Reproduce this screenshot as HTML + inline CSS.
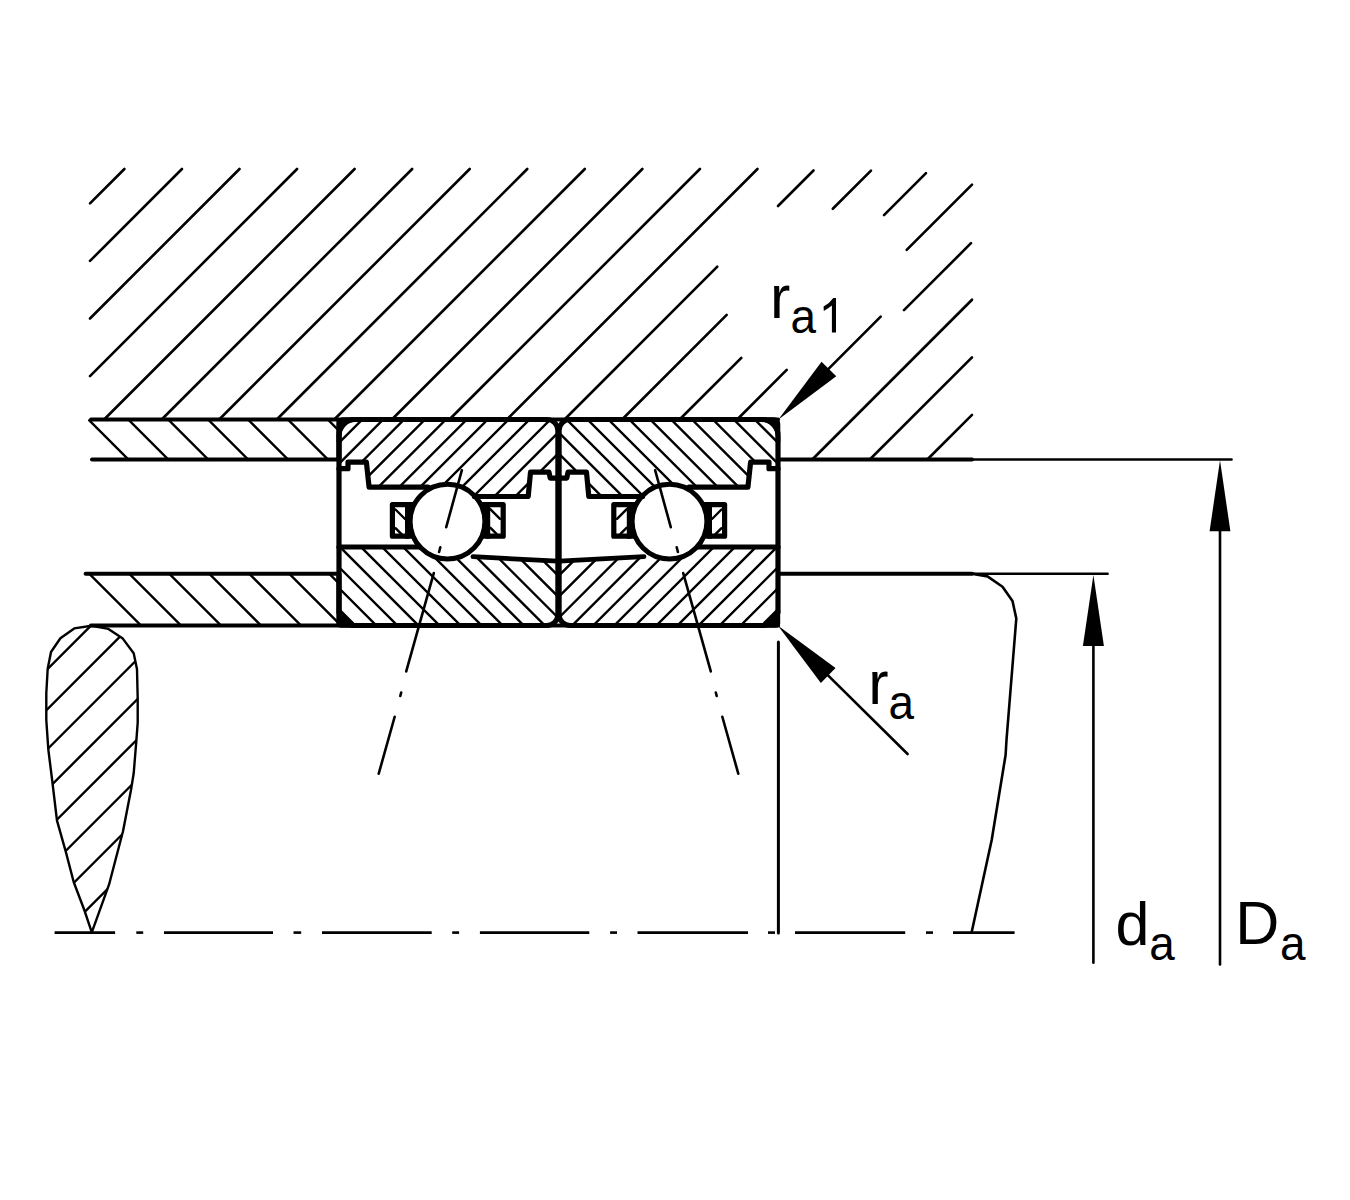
<!DOCTYPE html>
<html><head><meta charset="utf-8"><title>Bearing arrangement</title>
<style>html,body{margin:0;padding:0;background:#fff;} svg{display:block;}</style>
</head><body>
<svg width="1350" height="1200" viewBox="0 0 1350 1200">
<defs><clipPath id="cOS"><polygon points="88.00,419.50 339.00,419.50 339.00,459.50 88.00,459.50"/></clipPath>
<clipPath id="cIS"><polygon points="86.00,573.70 339.00,573.70 339.00,625.50 86.00,625.50"/></clipPath>
<clipPath id="cTear"><polygon points="91.60,625.80 74.20,628.40 60.40,638.20 51.00,652.00 47.70,668.70 46.30,693.30 46.30,720.00 48.30,749.30 52.30,781.30 57.00,820.70 65.70,851.30 73.70,882.00 84.30,910.00 91.80,932.30 109.00,884.70 123.00,831.30 131.00,790.00 133.70,773.30 136.30,741.30 137.70,722.70 137.70,698.70 137.00,669.30 133.70,653.30 122.80,638.60 108.40,628.90"/></clipPath>
<clipPath id="cOR"><polygon points="339.00,419.50 557.90,419.50 557.90,478.10 550.20,478.10 549.00,472.20 530.50,472.20 528.20,496.50 474.50,496.50 447.50,521.60 428.00,487.20 369.10,487.20 366.40,462.20 348.00,462.20 348.00,468.70 339.00,468.70"/></clipPath>
<clipPath id="cIR"><polygon points="339.00,547.00 418.00,547.00 447.50,521.60 470.00,556.60 557.90,561.20 557.90,625.50 339.00,625.50"/></clipPath></defs>
<rect x="0" y="0" width="1350" height="1200" fill="#fff"/>
<g stroke="#000" fill="none" stroke-linecap="round">
<line x1="90.00" y1="203.40" x2="124.40" y2="169.00" stroke-width="2.6" stroke-linecap="round"/>
<line x1="90.00" y1="260.95" x2="181.95" y2="169.00" stroke-width="2.6" stroke-linecap="round"/>
<line x1="90.00" y1="318.50" x2="239.50" y2="169.00" stroke-width="2.6" stroke-linecap="round"/>
<line x1="90.00" y1="376.05" x2="297.05" y2="169.00" stroke-width="2.6" stroke-linecap="round"/>
<line x1="104.10" y1="419.50" x2="354.60" y2="169.00" stroke-width="2.6" stroke-linecap="round"/>
<line x1="161.65" y1="419.50" x2="412.15" y2="169.00" stroke-width="2.6" stroke-linecap="round"/>
<line x1="219.20" y1="419.50" x2="469.70" y2="169.00" stroke-width="2.6" stroke-linecap="round"/>
<line x1="276.75" y1="419.50" x2="527.25" y2="169.00" stroke-width="2.6" stroke-linecap="round"/>
<line x1="334.30" y1="419.50" x2="584.80" y2="169.00" stroke-width="2.6" stroke-linecap="round"/>
<line x1="391.85" y1="419.50" x2="642.35" y2="169.00" stroke-width="2.6" stroke-linecap="round"/>
<line x1="449.40" y1="419.50" x2="699.90" y2="169.00" stroke-width="2.6" stroke-linecap="round"/>
<line x1="506.95" y1="419.50" x2="757.45" y2="169.00" stroke-width="2.6" stroke-linecap="round"/>
<line x1="564.50" y1="419.50" x2="717.30" y2="266.70" stroke-width="2.6" stroke-linecap="round"/>
<line x1="778.00" y1="206.00" x2="813.50" y2="170.50" stroke-width="2.6" stroke-linecap="round"/>
<line x1="622.05" y1="419.50" x2="726.70" y2="314.85" stroke-width="2.6" stroke-linecap="round"/>
<line x1="832.80" y1="208.75" x2="871.00" y2="170.55" stroke-width="2.6" stroke-linecap="round"/>
<line x1="679.60" y1="419.50" x2="741.30" y2="357.80" stroke-width="2.6" stroke-linecap="round"/>
<line x1="884.00" y1="215.10" x2="926.00" y2="173.10" stroke-width="2.6" stroke-linecap="round"/>
<line x1="737.15" y1="419.50" x2="786.70" y2="369.95" stroke-width="2.6" stroke-linecap="round"/>
<line x1="906.70" y1="249.95" x2="972.00" y2="184.65" stroke-width="2.6" stroke-linecap="round"/>
<line x1="904.00" y1="310.20" x2="971.00" y2="243.20" stroke-width="2.6" stroke-linecap="round"/>
<line x1="812.25" y1="459.50" x2="972.00" y2="299.75" stroke-width="2.6" stroke-linecap="round"/>
<line x1="869.80" y1="459.50" x2="972.00" y2="357.30" stroke-width="2.6" stroke-linecap="round"/>
<line x1="927.35" y1="459.50" x2="972.00" y2="414.85" stroke-width="2.6" stroke-linecap="round"/>
<g clip-path="url(#cOS)"><line x1="60.00" y1="391.10" x2="360.00" y2="691.10" stroke-width="2.4"/>
<line x1="60.00" y1="351.20" x2="360.00" y2="651.20" stroke-width="2.4"/>
<line x1="60.00" y1="311.30" x2="360.00" y2="611.30" stroke-width="2.4"/>
<line x1="60.00" y1="271.40" x2="360.00" y2="571.40" stroke-width="2.4"/>
<line x1="60.00" y1="231.50" x2="360.00" y2="531.50" stroke-width="2.4"/>
<line x1="60.00" y1="191.60" x2="360.00" y2="491.60" stroke-width="2.4"/>
<line x1="60.00" y1="151.70" x2="360.00" y2="451.70" stroke-width="2.4"/>
<line x1="60.00" y1="111.80" x2="360.00" y2="411.80" stroke-width="2.4"/></g>
<g clip-path="url(#cIS)"><line x1="60.00" y1="544.50" x2="360.00" y2="844.50" stroke-width="2.4"/>
<line x1="60.00" y1="504.50" x2="360.00" y2="804.50" stroke-width="2.4"/>
<line x1="60.00" y1="464.50" x2="360.00" y2="764.50" stroke-width="2.4"/>
<line x1="60.00" y1="424.50" x2="360.00" y2="724.50" stroke-width="2.4"/>
<line x1="60.00" y1="384.50" x2="360.00" y2="684.50" stroke-width="2.4"/>
<line x1="60.00" y1="344.50" x2="360.00" y2="644.50" stroke-width="2.4"/>
<line x1="60.00" y1="304.50" x2="360.00" y2="604.50" stroke-width="2.4"/>
<line x1="60.00" y1="264.50" x2="360.00" y2="564.50" stroke-width="2.4"/>
<line x1="60.00" y1="224.50" x2="360.00" y2="524.50" stroke-width="2.4"/></g>
<g clip-path="url(#cTear)"><line x1="30.00" y1="686.60" x2="160.00" y2="556.60" stroke-width="2.4"/>
<line x1="30.00" y1="726.60" x2="160.00" y2="596.60" stroke-width="2.4"/>
<line x1="30.00" y1="766.60" x2="160.00" y2="636.60" stroke-width="2.4"/>
<line x1="30.00" y1="806.60" x2="160.00" y2="676.60" stroke-width="2.4"/>
<line x1="30.00" y1="846.60" x2="160.00" y2="716.60" stroke-width="2.4"/>
<line x1="30.00" y1="886.60" x2="160.00" y2="756.60" stroke-width="2.4"/>
<line x1="30.00" y1="926.60" x2="160.00" y2="796.60" stroke-width="2.4"/>
<line x1="30.00" y1="966.60" x2="160.00" y2="836.60" stroke-width="2.4"/></g>
<path d="M91.60,625.80 L74.20,628.40 L60.40,638.20 L51.00,652.00 L47.70,668.70 L46.30,693.30 L46.30,720.00 L48.30,749.30 L52.30,781.30 L57.00,820.70 L65.70,851.30 L73.70,882.00 L84.30,910.00 L91.80,932.30 L109.00,884.70 L123.00,831.30 L131.00,790.00 L133.70,773.30 L136.30,741.30 L137.70,722.70 L137.70,698.70 L137.00,669.30 L133.70,653.30 L122.80,638.60 L108.40,628.90 Z" stroke-width="2.4" fill="none" stroke-linejoin="round"/>
<line x1="91.00" y1="419.60" x2="778.00" y2="419.60" stroke-width="4.0" stroke-linecap="round"/>
<line x1="92.00" y1="459.60" x2="339.00" y2="459.60" stroke-width="4.0" stroke-linecap="round"/>
<line x1="778.00" y1="459.50" x2="972.00" y2="459.50" stroke-width="4.0" stroke-linecap="round"/>
<line x1="972.00" y1="459.50" x2="1231.50" y2="459.50" stroke-width="2.6" stroke-linecap="round"/>
<line x1="85.60" y1="573.70" x2="339.00" y2="573.70" stroke-width="4.0" stroke-linecap="round"/>
<line x1="778.00" y1="573.80" x2="972.00" y2="573.80" stroke-width="4.0" stroke-linecap="round"/>
<line x1="972.00" y1="573.80" x2="1107.60" y2="573.80" stroke-width="2.6" stroke-linecap="round"/>
<line x1="91.00" y1="625.50" x2="778.00" y2="625.50" stroke-width="4.2" stroke-linecap="round"/>
<line x1="339.00" y1="419.50" x2="339.00" y2="459.50" stroke-width="5.2" stroke-linecap="butt"/>
<line x1="339.00" y1="573.70" x2="339.00" y2="625.50" stroke-width="5.2" stroke-linecap="butt"/>
<g><g clip-path="url(#cOR)"><line x1="330.00" y1="-70.70" x2="570.00" y2="-310.70" stroke-width="2.4"/>
<line x1="330.00" y1="-49.80" x2="570.00" y2="-289.80" stroke-width="2.4"/>
<line x1="330.00" y1="-28.90" x2="570.00" y2="-268.90" stroke-width="2.4"/>
<line x1="330.00" y1="-8.00" x2="570.00" y2="-248.00" stroke-width="2.4"/>
<line x1="330.00" y1="12.90" x2="570.00" y2="-227.10" stroke-width="2.4"/>
<line x1="330.00" y1="33.80" x2="570.00" y2="-206.20" stroke-width="2.4"/>
<line x1="330.00" y1="54.70" x2="570.00" y2="-185.30" stroke-width="2.4"/>
<line x1="330.00" y1="75.60" x2="570.00" y2="-164.40" stroke-width="2.4"/>
<line x1="330.00" y1="96.50" x2="570.00" y2="-143.50" stroke-width="2.4"/>
<line x1="330.00" y1="117.40" x2="570.00" y2="-122.60" stroke-width="2.4"/>
<line x1="330.00" y1="138.30" x2="570.00" y2="-101.70" stroke-width="2.4"/>
<line x1="330.00" y1="159.20" x2="570.00" y2="-80.80" stroke-width="2.4"/>
<line x1="330.00" y1="180.10" x2="570.00" y2="-59.90" stroke-width="2.4"/>
<line x1="330.00" y1="201.00" x2="570.00" y2="-39.00" stroke-width="2.4"/>
<line x1="330.00" y1="221.90" x2="570.00" y2="-18.10" stroke-width="2.4"/>
<line x1="330.00" y1="242.80" x2="570.00" y2="2.80" stroke-width="2.4"/>
<line x1="330.00" y1="263.70" x2="570.00" y2="23.70" stroke-width="2.4"/>
<line x1="330.00" y1="284.60" x2="570.00" y2="44.60" stroke-width="2.4"/>
<line x1="330.00" y1="305.50" x2="570.00" y2="65.50" stroke-width="2.4"/>
<line x1="330.00" y1="326.40" x2="570.00" y2="86.40" stroke-width="2.4"/>
<line x1="330.00" y1="347.30" x2="570.00" y2="107.30" stroke-width="2.4"/>
<line x1="330.00" y1="368.20" x2="570.00" y2="128.20" stroke-width="2.4"/>
<line x1="330.00" y1="389.10" x2="570.00" y2="149.10" stroke-width="2.4"/>
<line x1="330.00" y1="410.00" x2="570.00" y2="170.00" stroke-width="2.4"/>
<line x1="330.00" y1="430.90" x2="570.00" y2="190.90" stroke-width="2.4"/>
<line x1="330.00" y1="451.80" x2="570.00" y2="211.80" stroke-width="2.4"/>
<line x1="330.00" y1="472.70" x2="570.00" y2="232.70" stroke-width="2.4"/>
<line x1="330.00" y1="493.60" x2="570.00" y2="253.60" stroke-width="2.4"/>
<line x1="330.00" y1="514.50" x2="570.00" y2="274.50" stroke-width="2.4"/>
<line x1="330.00" y1="535.40" x2="570.00" y2="295.40" stroke-width="2.4"/>
<line x1="330.00" y1="556.30" x2="570.00" y2="316.30" stroke-width="2.4"/>
<line x1="330.00" y1="577.20" x2="570.00" y2="337.20" stroke-width="2.4"/>
<line x1="330.00" y1="598.10" x2="570.00" y2="358.10" stroke-width="2.4"/>
<line x1="330.00" y1="619.00" x2="570.00" y2="379.00" stroke-width="2.4"/>
<line x1="330.00" y1="639.90" x2="570.00" y2="399.90" stroke-width="2.4"/>
<line x1="330.00" y1="660.80" x2="570.00" y2="420.80" stroke-width="2.4"/>
<line x1="330.00" y1="681.70" x2="570.00" y2="441.70" stroke-width="2.4"/>
<line x1="330.00" y1="702.60" x2="570.00" y2="462.60" stroke-width="2.4"/>
<line x1="330.00" y1="723.50" x2="570.00" y2="483.50" stroke-width="2.4"/>
<line x1="330.00" y1="744.40" x2="570.00" y2="504.40" stroke-width="2.4"/>
<line x1="330.00" y1="765.30" x2="570.00" y2="525.30" stroke-width="2.4"/>
<line x1="330.00" y1="786.20" x2="570.00" y2="546.20" stroke-width="2.4"/>
<line x1="330.00" y1="807.10" x2="570.00" y2="567.10" stroke-width="2.4"/>
<line x1="330.00" y1="828.00" x2="570.00" y2="588.00" stroke-width="2.4"/>
<line x1="330.00" y1="848.90" x2="570.00" y2="608.90" stroke-width="2.4"/>
<line x1="330.00" y1="869.80" x2="570.00" y2="629.80" stroke-width="2.4"/>
<line x1="330.00" y1="890.70" x2="570.00" y2="650.70" stroke-width="2.4"/>
<line x1="330.00" y1="911.60" x2="570.00" y2="671.60" stroke-width="2.4"/>
<line x1="330.00" y1="932.50" x2="570.00" y2="692.50" stroke-width="2.4"/>
<line x1="330.00" y1="953.40" x2="570.00" y2="713.40" stroke-width="2.4"/>
<line x1="330.00" y1="974.30" x2="570.00" y2="734.30" stroke-width="2.4"/></g>
<g clip-path="url(#cIR)"><line x1="330.00" y1="1084.60" x2="570.00" y2="1324.60" stroke-width="2.4"/>
<line x1="330.00" y1="1063.54" x2="570.00" y2="1303.54" stroke-width="2.4"/>
<line x1="330.00" y1="1042.48" x2="570.00" y2="1282.48" stroke-width="2.4"/>
<line x1="330.00" y1="1021.42" x2="570.00" y2="1261.42" stroke-width="2.4"/>
<line x1="330.00" y1="1000.36" x2="570.00" y2="1240.36" stroke-width="2.4"/>
<line x1="330.00" y1="979.30" x2="570.00" y2="1219.30" stroke-width="2.4"/>
<line x1="330.00" y1="958.24" x2="570.00" y2="1198.24" stroke-width="2.4"/>
<line x1="330.00" y1="937.18" x2="570.00" y2="1177.18" stroke-width="2.4"/>
<line x1="330.00" y1="916.12" x2="570.00" y2="1156.12" stroke-width="2.4"/>
<line x1="330.00" y1="895.06" x2="570.00" y2="1135.06" stroke-width="2.4"/>
<line x1="330.00" y1="874.00" x2="570.00" y2="1114.00" stroke-width="2.4"/>
<line x1="330.00" y1="852.94" x2="570.00" y2="1092.94" stroke-width="2.4"/>
<line x1="330.00" y1="831.88" x2="570.00" y2="1071.88" stroke-width="2.4"/>
<line x1="330.00" y1="810.82" x2="570.00" y2="1050.82" stroke-width="2.4"/>
<line x1="330.00" y1="789.76" x2="570.00" y2="1029.76" stroke-width="2.4"/>
<line x1="330.00" y1="768.70" x2="570.00" y2="1008.70" stroke-width="2.4"/>
<line x1="330.00" y1="747.64" x2="570.00" y2="987.64" stroke-width="2.4"/>
<line x1="330.00" y1="726.58" x2="570.00" y2="966.58" stroke-width="2.4"/>
<line x1="330.00" y1="705.52" x2="570.00" y2="945.52" stroke-width="2.4"/>
<line x1="330.00" y1="684.46" x2="570.00" y2="924.46" stroke-width="2.4"/>
<line x1="330.00" y1="663.40" x2="570.00" y2="903.40" stroke-width="2.4"/>
<line x1="330.00" y1="642.34" x2="570.00" y2="882.34" stroke-width="2.4"/>
<line x1="330.00" y1="621.28" x2="570.00" y2="861.28" stroke-width="2.4"/>
<line x1="330.00" y1="600.22" x2="570.00" y2="840.22" stroke-width="2.4"/>
<line x1="330.00" y1="579.16" x2="570.00" y2="819.16" stroke-width="2.4"/>
<line x1="330.00" y1="558.10" x2="570.00" y2="798.10" stroke-width="2.4"/>
<line x1="330.00" y1="537.04" x2="570.00" y2="777.04" stroke-width="2.4"/>
<line x1="330.00" y1="515.98" x2="570.00" y2="755.98" stroke-width="2.4"/>
<line x1="330.00" y1="494.92" x2="570.00" y2="734.92" stroke-width="2.4"/>
<line x1="330.00" y1="473.86" x2="570.00" y2="713.86" stroke-width="2.4"/>
<line x1="330.00" y1="452.80" x2="570.00" y2="692.80" stroke-width="2.4"/>
<line x1="330.00" y1="431.74" x2="570.00" y2="671.74" stroke-width="2.4"/>
<line x1="330.00" y1="410.68" x2="570.00" y2="650.68" stroke-width="2.4"/>
<line x1="330.00" y1="389.62" x2="570.00" y2="629.62" stroke-width="2.4"/>
<line x1="330.00" y1="368.56" x2="570.00" y2="608.56" stroke-width="2.4"/>
<line x1="330.00" y1="347.50" x2="570.00" y2="587.50" stroke-width="2.4"/>
<line x1="330.00" y1="326.44" x2="570.00" y2="566.44" stroke-width="2.4"/>
<line x1="330.00" y1="305.38" x2="570.00" y2="545.38" stroke-width="2.4"/>
<line x1="330.00" y1="284.32" x2="570.00" y2="524.32" stroke-width="2.4"/>
<line x1="330.00" y1="263.26" x2="570.00" y2="503.26" stroke-width="2.4"/>
<line x1="330.00" y1="242.20" x2="570.00" y2="482.20" stroke-width="2.4"/>
<line x1="330.00" y1="221.14" x2="570.00" y2="461.14" stroke-width="2.4"/>
<line x1="330.00" y1="200.08" x2="570.00" y2="440.08" stroke-width="2.4"/>
<line x1="330.00" y1="179.02" x2="570.00" y2="419.02" stroke-width="2.4"/>
<line x1="330.00" y1="157.96" x2="570.00" y2="397.96" stroke-width="2.4"/>
<line x1="330.00" y1="136.90" x2="570.00" y2="376.90" stroke-width="2.4"/>
<line x1="330.00" y1="115.84" x2="570.00" y2="355.84" stroke-width="2.4"/>
<line x1="330.00" y1="94.78" x2="570.00" y2="334.78" stroke-width="2.4"/>
<line x1="330.00" y1="73.72" x2="570.00" y2="313.72" stroke-width="2.4"/>
<line x1="330.00" y1="52.66" x2="570.00" y2="292.66" stroke-width="2.4"/>
<line x1="330.00" y1="31.60" x2="570.00" y2="271.60" stroke-width="2.4"/></g>
<rect x="392.4" y="504.6" width="15.5" height="31.6" fill="#fff" stroke-width="5.2" stroke-linejoin="round"/>
<rect x="487.4" y="504.6" width="15.8" height="31.6" fill="#fff" stroke-width="5.2" stroke-linejoin="round"/>
<rect x="405" y="502" width="12" height="36.7" fill="#000" stroke="none"/>
<rect x="478" y="502" width="12.2" height="36.7" fill="#000" stroke="none"/>
<circle cx="447.5" cy="521.6" r="37.4" fill="#fff" stroke-width="5.0"/>
<line x1="395.5" y1="509.5" x2="405" y2="519" stroke-width="2.4"/>
<line x1="395.5" y1="528.2" x2="401.5" y2="534.2" stroke-width="2.4"/>
<line x1="490.5" y1="509.3" x2="500" y2="518.8" stroke-width="2.4"/>
<line x1="490.5" y1="527.8" x2="496.5" y2="533.8" stroke-width="2.4"/>
<path d="M339.00,468.70 L348.00,468.70 L348.00,462.20 L366.40,462.20 L369.10,487.20 L428.00,487.20" stroke-width="5.2" fill="none" stroke-linejoin="round"/>
<path d="M474.50,496.50 L528.20,496.50 L530.50,472.20 L549.00,472.20 L550.20,478.10 L557.90,478.10" stroke-width="5.2" fill="none" stroke-linejoin="round"/>
<path d="M339.00,547.00 L418.00,547.00" stroke-width="5.2" fill="none" stroke-linejoin="round"/>
<path d="M473.00,556.70 L557.90,561.20" stroke-width="4.8" fill="none" stroke-linejoin="round"/>
<path d="M339.0,436 L339.0,612.5 L352,625.5 L546.9,625.5 A11,11 0 0 0 557.9,614.5 L557.9,430.5 A11,11 0 0 0 546.9,419.5 L355,419.5 A16,16 0 0 0 339.0,436 Z" fill="none" stroke-width="5.2" stroke-linejoin="round"/>
<path d="M336.7,442 L336.7,423.7 A6.5,6.5 0 0 1 343.2,417.2 L362,417.2 L362,421.8 L356,421.8 A14.5,14.5 0 0 0 341.3,436.3 L341.3,442 Z" fill="#000" stroke="none"/>
<path d="M336.8,610.5 L336.8,623.5 A4.5,4.5 0 0 0 341.3,627.8 L355,627.8 Z" fill="#000" stroke="none"/>
<line x1="461.88" y1="470.16" x2="446.22" y2="527.14" stroke-width="2.6" stroke-linecap="round"/>
<line x1="440.31" y1="547.26" x2="439.09" y2="552.04" stroke-width="2.6" stroke-linecap="round"/>
<line x1="433.78" y1="573.06" x2="406.22" y2="671.44" stroke-width="2.6" stroke-linecap="round"/>
<line x1="401.20" y1="692.46" x2="400.30" y2="696.04" stroke-width="2.6" stroke-linecap="round"/>
<line x1="394.68" y1="716.76" x2="378.72" y2="773.64" stroke-width="2.6" stroke-linecap="round"/></g>
<g transform="translate(1117,0) scale(-1,1)"><g clip-path="url(#cOR)"><line x1="330.00" y1="-70.70" x2="570.00" y2="-310.70" stroke-width="2.4"/>
<line x1="330.00" y1="-49.80" x2="570.00" y2="-289.80" stroke-width="2.4"/>
<line x1="330.00" y1="-28.90" x2="570.00" y2="-268.90" stroke-width="2.4"/>
<line x1="330.00" y1="-8.00" x2="570.00" y2="-248.00" stroke-width="2.4"/>
<line x1="330.00" y1="12.90" x2="570.00" y2="-227.10" stroke-width="2.4"/>
<line x1="330.00" y1="33.80" x2="570.00" y2="-206.20" stroke-width="2.4"/>
<line x1="330.00" y1="54.70" x2="570.00" y2="-185.30" stroke-width="2.4"/>
<line x1="330.00" y1="75.60" x2="570.00" y2="-164.40" stroke-width="2.4"/>
<line x1="330.00" y1="96.50" x2="570.00" y2="-143.50" stroke-width="2.4"/>
<line x1="330.00" y1="117.40" x2="570.00" y2="-122.60" stroke-width="2.4"/>
<line x1="330.00" y1="138.30" x2="570.00" y2="-101.70" stroke-width="2.4"/>
<line x1="330.00" y1="159.20" x2="570.00" y2="-80.80" stroke-width="2.4"/>
<line x1="330.00" y1="180.10" x2="570.00" y2="-59.90" stroke-width="2.4"/>
<line x1="330.00" y1="201.00" x2="570.00" y2="-39.00" stroke-width="2.4"/>
<line x1="330.00" y1="221.90" x2="570.00" y2="-18.10" stroke-width="2.4"/>
<line x1="330.00" y1="242.80" x2="570.00" y2="2.80" stroke-width="2.4"/>
<line x1="330.00" y1="263.70" x2="570.00" y2="23.70" stroke-width="2.4"/>
<line x1="330.00" y1="284.60" x2="570.00" y2="44.60" stroke-width="2.4"/>
<line x1="330.00" y1="305.50" x2="570.00" y2="65.50" stroke-width="2.4"/>
<line x1="330.00" y1="326.40" x2="570.00" y2="86.40" stroke-width="2.4"/>
<line x1="330.00" y1="347.30" x2="570.00" y2="107.30" stroke-width="2.4"/>
<line x1="330.00" y1="368.20" x2="570.00" y2="128.20" stroke-width="2.4"/>
<line x1="330.00" y1="389.10" x2="570.00" y2="149.10" stroke-width="2.4"/>
<line x1="330.00" y1="410.00" x2="570.00" y2="170.00" stroke-width="2.4"/>
<line x1="330.00" y1="430.90" x2="570.00" y2="190.90" stroke-width="2.4"/>
<line x1="330.00" y1="451.80" x2="570.00" y2="211.80" stroke-width="2.4"/>
<line x1="330.00" y1="472.70" x2="570.00" y2="232.70" stroke-width="2.4"/>
<line x1="330.00" y1="493.60" x2="570.00" y2="253.60" stroke-width="2.4"/>
<line x1="330.00" y1="514.50" x2="570.00" y2="274.50" stroke-width="2.4"/>
<line x1="330.00" y1="535.40" x2="570.00" y2="295.40" stroke-width="2.4"/>
<line x1="330.00" y1="556.30" x2="570.00" y2="316.30" stroke-width="2.4"/>
<line x1="330.00" y1="577.20" x2="570.00" y2="337.20" stroke-width="2.4"/>
<line x1="330.00" y1="598.10" x2="570.00" y2="358.10" stroke-width="2.4"/>
<line x1="330.00" y1="619.00" x2="570.00" y2="379.00" stroke-width="2.4"/>
<line x1="330.00" y1="639.90" x2="570.00" y2="399.90" stroke-width="2.4"/>
<line x1="330.00" y1="660.80" x2="570.00" y2="420.80" stroke-width="2.4"/>
<line x1="330.00" y1="681.70" x2="570.00" y2="441.70" stroke-width="2.4"/>
<line x1="330.00" y1="702.60" x2="570.00" y2="462.60" stroke-width="2.4"/>
<line x1="330.00" y1="723.50" x2="570.00" y2="483.50" stroke-width="2.4"/>
<line x1="330.00" y1="744.40" x2="570.00" y2="504.40" stroke-width="2.4"/>
<line x1="330.00" y1="765.30" x2="570.00" y2="525.30" stroke-width="2.4"/>
<line x1="330.00" y1="786.20" x2="570.00" y2="546.20" stroke-width="2.4"/>
<line x1="330.00" y1="807.10" x2="570.00" y2="567.10" stroke-width="2.4"/>
<line x1="330.00" y1="828.00" x2="570.00" y2="588.00" stroke-width="2.4"/>
<line x1="330.00" y1="848.90" x2="570.00" y2="608.90" stroke-width="2.4"/>
<line x1="330.00" y1="869.80" x2="570.00" y2="629.80" stroke-width="2.4"/>
<line x1="330.00" y1="890.70" x2="570.00" y2="650.70" stroke-width="2.4"/>
<line x1="330.00" y1="911.60" x2="570.00" y2="671.60" stroke-width="2.4"/>
<line x1="330.00" y1="932.50" x2="570.00" y2="692.50" stroke-width="2.4"/>
<line x1="330.00" y1="953.40" x2="570.00" y2="713.40" stroke-width="2.4"/>
<line x1="330.00" y1="974.30" x2="570.00" y2="734.30" stroke-width="2.4"/></g>
<g clip-path="url(#cIR)"><line x1="330.00" y1="1084.60" x2="570.00" y2="1324.60" stroke-width="2.4"/>
<line x1="330.00" y1="1063.54" x2="570.00" y2="1303.54" stroke-width="2.4"/>
<line x1="330.00" y1="1042.48" x2="570.00" y2="1282.48" stroke-width="2.4"/>
<line x1="330.00" y1="1021.42" x2="570.00" y2="1261.42" stroke-width="2.4"/>
<line x1="330.00" y1="1000.36" x2="570.00" y2="1240.36" stroke-width="2.4"/>
<line x1="330.00" y1="979.30" x2="570.00" y2="1219.30" stroke-width="2.4"/>
<line x1="330.00" y1="958.24" x2="570.00" y2="1198.24" stroke-width="2.4"/>
<line x1="330.00" y1="937.18" x2="570.00" y2="1177.18" stroke-width="2.4"/>
<line x1="330.00" y1="916.12" x2="570.00" y2="1156.12" stroke-width="2.4"/>
<line x1="330.00" y1="895.06" x2="570.00" y2="1135.06" stroke-width="2.4"/>
<line x1="330.00" y1="874.00" x2="570.00" y2="1114.00" stroke-width="2.4"/>
<line x1="330.00" y1="852.94" x2="570.00" y2="1092.94" stroke-width="2.4"/>
<line x1="330.00" y1="831.88" x2="570.00" y2="1071.88" stroke-width="2.4"/>
<line x1="330.00" y1="810.82" x2="570.00" y2="1050.82" stroke-width="2.4"/>
<line x1="330.00" y1="789.76" x2="570.00" y2="1029.76" stroke-width="2.4"/>
<line x1="330.00" y1="768.70" x2="570.00" y2="1008.70" stroke-width="2.4"/>
<line x1="330.00" y1="747.64" x2="570.00" y2="987.64" stroke-width="2.4"/>
<line x1="330.00" y1="726.58" x2="570.00" y2="966.58" stroke-width="2.4"/>
<line x1="330.00" y1="705.52" x2="570.00" y2="945.52" stroke-width="2.4"/>
<line x1="330.00" y1="684.46" x2="570.00" y2="924.46" stroke-width="2.4"/>
<line x1="330.00" y1="663.40" x2="570.00" y2="903.40" stroke-width="2.4"/>
<line x1="330.00" y1="642.34" x2="570.00" y2="882.34" stroke-width="2.4"/>
<line x1="330.00" y1="621.28" x2="570.00" y2="861.28" stroke-width="2.4"/>
<line x1="330.00" y1="600.22" x2="570.00" y2="840.22" stroke-width="2.4"/>
<line x1="330.00" y1="579.16" x2="570.00" y2="819.16" stroke-width="2.4"/>
<line x1="330.00" y1="558.10" x2="570.00" y2="798.10" stroke-width="2.4"/>
<line x1="330.00" y1="537.04" x2="570.00" y2="777.04" stroke-width="2.4"/>
<line x1="330.00" y1="515.98" x2="570.00" y2="755.98" stroke-width="2.4"/>
<line x1="330.00" y1="494.92" x2="570.00" y2="734.92" stroke-width="2.4"/>
<line x1="330.00" y1="473.86" x2="570.00" y2="713.86" stroke-width="2.4"/>
<line x1="330.00" y1="452.80" x2="570.00" y2="692.80" stroke-width="2.4"/>
<line x1="330.00" y1="431.74" x2="570.00" y2="671.74" stroke-width="2.4"/>
<line x1="330.00" y1="410.68" x2="570.00" y2="650.68" stroke-width="2.4"/>
<line x1="330.00" y1="389.62" x2="570.00" y2="629.62" stroke-width="2.4"/>
<line x1="330.00" y1="368.56" x2="570.00" y2="608.56" stroke-width="2.4"/>
<line x1="330.00" y1="347.50" x2="570.00" y2="587.50" stroke-width="2.4"/>
<line x1="330.00" y1="326.44" x2="570.00" y2="566.44" stroke-width="2.4"/>
<line x1="330.00" y1="305.38" x2="570.00" y2="545.38" stroke-width="2.4"/>
<line x1="330.00" y1="284.32" x2="570.00" y2="524.32" stroke-width="2.4"/>
<line x1="330.00" y1="263.26" x2="570.00" y2="503.26" stroke-width="2.4"/>
<line x1="330.00" y1="242.20" x2="570.00" y2="482.20" stroke-width="2.4"/>
<line x1="330.00" y1="221.14" x2="570.00" y2="461.14" stroke-width="2.4"/>
<line x1="330.00" y1="200.08" x2="570.00" y2="440.08" stroke-width="2.4"/>
<line x1="330.00" y1="179.02" x2="570.00" y2="419.02" stroke-width="2.4"/>
<line x1="330.00" y1="157.96" x2="570.00" y2="397.96" stroke-width="2.4"/>
<line x1="330.00" y1="136.90" x2="570.00" y2="376.90" stroke-width="2.4"/>
<line x1="330.00" y1="115.84" x2="570.00" y2="355.84" stroke-width="2.4"/>
<line x1="330.00" y1="94.78" x2="570.00" y2="334.78" stroke-width="2.4"/>
<line x1="330.00" y1="73.72" x2="570.00" y2="313.72" stroke-width="2.4"/>
<line x1="330.00" y1="52.66" x2="570.00" y2="292.66" stroke-width="2.4"/>
<line x1="330.00" y1="31.60" x2="570.00" y2="271.60" stroke-width="2.4"/></g>
<rect x="392.4" y="504.6" width="15.5" height="31.6" fill="#fff" stroke-width="5.2" stroke-linejoin="round"/>
<rect x="487.4" y="504.6" width="15.8" height="31.6" fill="#fff" stroke-width="5.2" stroke-linejoin="round"/>
<rect x="405" y="502" width="12" height="36.7" fill="#000" stroke="none"/>
<rect x="478" y="502" width="12.2" height="36.7" fill="#000" stroke="none"/>
<circle cx="447.5" cy="521.6" r="37.4" fill="#fff" stroke-width="5.0"/>
<line x1="395.5" y1="509.5" x2="405" y2="519" stroke-width="2.4"/>
<line x1="395.5" y1="528.2" x2="401.5" y2="534.2" stroke-width="2.4"/>
<line x1="490.5" y1="509.3" x2="500" y2="518.8" stroke-width="2.4"/>
<line x1="490.5" y1="527.8" x2="496.5" y2="533.8" stroke-width="2.4"/>
<path d="M339.00,468.70 L348.00,468.70 L348.00,462.20 L366.40,462.20 L369.10,487.20 L428.00,487.20" stroke-width="5.2" fill="none" stroke-linejoin="round"/>
<path d="M474.50,496.50 L528.20,496.50 L530.50,472.20 L549.00,472.20 L550.20,478.10 L557.90,478.10" stroke-width="5.2" fill="none" stroke-linejoin="round"/>
<path d="M339.00,547.00 L418.00,547.00" stroke-width="5.2" fill="none" stroke-linejoin="round"/>
<path d="M473.00,556.70 L557.90,561.20" stroke-width="4.8" fill="none" stroke-linejoin="round"/>
<path d="M339.0,436 L339.0,612.5 L352,625.5 L546.9,625.5 A11,11 0 0 0 557.9,614.5 L557.9,430.5 A11,11 0 0 0 546.9,419.5 L355,419.5 A16,16 0 0 0 339.0,436 Z" fill="none" stroke-width="5.2" stroke-linejoin="round"/>
<path d="M336.7,442 L336.7,423.7 A6.5,6.5 0 0 1 343.2,417.2 L362,417.2 L362,421.8 L356,421.8 A14.5,14.5 0 0 0 341.3,436.3 L341.3,442 Z" fill="#000" stroke="none"/>
<path d="M336.8,610.5 L336.8,623.5 A4.5,4.5 0 0 0 341.3,627.8 L355,627.8 Z" fill="#000" stroke="none"/>
<line x1="461.88" y1="470.16" x2="446.22" y2="527.14" stroke-width="2.6" stroke-linecap="round"/>
<line x1="440.31" y1="547.26" x2="439.09" y2="552.04" stroke-width="2.6" stroke-linecap="round"/>
<line x1="433.78" y1="573.06" x2="406.22" y2="671.44" stroke-width="2.6" stroke-linecap="round"/>
<line x1="401.20" y1="692.46" x2="400.30" y2="696.04" stroke-width="2.6" stroke-linecap="round"/>
<line x1="394.68" y1="716.76" x2="378.72" y2="773.64" stroke-width="2.6" stroke-linecap="round"/></g>
<path d="M971.70,573.60 L987.50,576.40 L1002.50,586.80 L1012.50,600.90 L1016.30,618.50 L1006.50,740.00 L1005.60,755.00 L991.70,840.00 L971.70,932.00" stroke-width="2.6" fill="none" stroke-linejoin="round"/>
<line x1="54.60" y1="932.60" x2="115.10" y2="932.60" stroke-width="2.6" stroke-linecap="butt"/>
<line x1="164.00" y1="932.60" x2="273.00" y2="932.60" stroke-width="2.6" stroke-linecap="butt"/>
<line x1="322.00" y1="932.60" x2="431.70" y2="932.60" stroke-width="2.6" stroke-linecap="butt"/>
<line x1="479.90" y1="932.60" x2="589.30" y2="932.60" stroke-width="2.6" stroke-linecap="butt"/>
<line x1="637.50" y1="932.60" x2="748.00" y2="932.60" stroke-width="2.6" stroke-linecap="butt"/>
<line x1="795.00" y1="932.60" x2="905.20" y2="932.60" stroke-width="2.6" stroke-linecap="butt"/>
<line x1="953.00" y1="932.60" x2="1014.60" y2="932.60" stroke-width="2.6" stroke-linecap="butt"/>
<line x1="136.30" y1="932.60" x2="143.20" y2="932.60" stroke-width="2.6" stroke-linecap="butt"/>
<line x1="293.50" y1="932.60" x2="301.20" y2="932.60" stroke-width="2.6" stroke-linecap="butt"/>
<line x1="452.20" y1="932.60" x2="459.10" y2="932.60" stroke-width="2.6" stroke-linecap="butt"/>
<line x1="610.10" y1="932.60" x2="617.00" y2="932.60" stroke-width="2.6" stroke-linecap="butt"/>
<line x1="768.00" y1="932.60" x2="775.00" y2="932.60" stroke-width="2.6" stroke-linecap="butt"/>
<line x1="926.00" y1="932.60" x2="933.00" y2="932.60" stroke-width="2.6" stroke-linecap="butt"/>
<line x1="778.40" y1="642.00" x2="778.40" y2="933.00" stroke-width="3.0" stroke-linecap="round"/>
<line x1="1093.40" y1="640.00" x2="1093.40" y2="962.80" stroke-width="2.6" stroke-linecap="round"/>
<polygon points="1093.40,575.00 1082.90,646.00 1103.90,646.00" fill="#000" stroke="none"/>
<line x1="1220.00" y1="525.00" x2="1220.00" y2="964.50" stroke-width="2.6" stroke-linecap="round"/>
<polygon points="1220.00,460.20 1209.60,531.30 1230.40,531.30" fill="#000" stroke="none"/>
<line x1="826.00" y1="371.40" x2="880.70" y2="316.70" stroke-width="2.6" stroke-linecap="round"/>
<polygon points="778.40,419.40 836.25,376.36 821.55,361.64" fill="#000" stroke="none"/>
<line x1="825.00" y1="672.40" x2="907.60" y2="754.00" stroke-width="2.6" stroke-linecap="round"/>
<polygon points="777.80,625.50 820.88,682.88 835.52,668.12" fill="#000" stroke="none"/>
</g>
<g fill="#000" font-family="Liberation Sans, sans-serif">
<text x="770.1" y="317.7" font-size="61">r</text>
<text transform="translate(790.4,333) scale(0.936,1)" font-size="49">a</text>
<path d="M836,298.1 L836,332.6 L831.9,332.6 L831.9,305.4 Q828,308.6 823.8,310.9 L823.6,306.6 Q830,303 833.3,298.1 Z"/>
<text x="868.2" y="703.8" font-size="61">r</text>
<text transform="translate(888.6,719.3) scale(0.936,1)" font-size="49">a</text>
<text x="1115.4" y="944.6" font-size="61">d</text>
<text transform="translate(1149.3,959.5) scale(0.936,1)" font-size="49">a</text>
<text x="1235.2" y="944.4" font-size="61">D</text>
<text transform="translate(1280.1,959.5) scale(0.936,1)" font-size="49">a</text>
</g>
</svg>
</body></html>
